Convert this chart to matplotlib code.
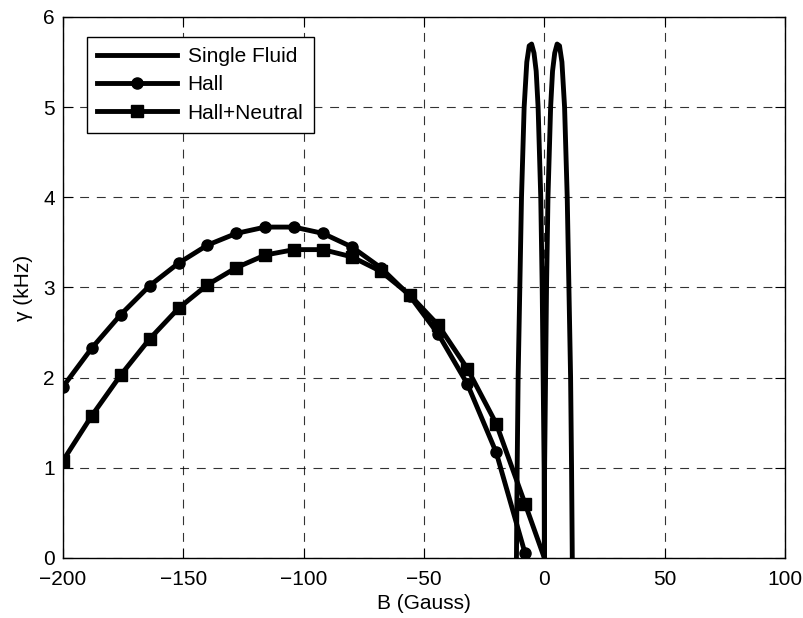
import numpy as np
import matplotlib
matplotlib.use("Agg")
import matplotlib.pyplot as plt

plt.rcParams['font.family'] = ['Liberation Sans', 'DejaVu Sans']

# Single fluid (two narrow lobes around B = 0)
sf_B = [-11.6, -11.3, -10.9, -10.2, -9.5, -8.4, -7.3, -6.3, -5.3, -4.3, -3.4,
        -2.6, -1.5, -0.9, -0.5, -0.1, 0.0, 0.1, 0.5, 0.9, 1.5, 2.6, 3.4, 4.3,
        5.3, 6.3, 7.3, 8.4, 9.5, 10.2, 10.9, 11.3, 11.6]
sf_gamma = [0.0, 1.0, 2.0, 3.0, 4.0, 5.0, 5.5, 5.68, 5.7, 5.6, 5.4,
            5.0, 4.0, 3.0, 2.0, 1.0, 0.0, 1.0, 2.0, 3.0, 4.0, 5.0, 5.4, 5.6,
            5.7, 5.68, 5.5, 5.0, 4.0, 3.0, 2.0, 1.0, 0.0]

# Hall
hall_B = [-200, -188, -176, -164, -152, -140, -128, -116, -104, -92, -80,
          -68, -56, -44, -32, -20, -8]
hall_gamma = [1.90, 2.33, 2.70, 3.02, 3.27, 3.47, 3.60, 3.67, 3.67, 3.60, 3.45,
              3.22, 2.91, 2.48, 1.93, 1.17, 0.05]

# Hall + neutral
hn_B = [-200, -188, -176, -164, -152, -140, -128, -116, -104, -92, -80,
        -68, -56, -44, -32, -20, -8, 4]
hn_gamma = [1.08, 1.58, 2.03, 2.43, 2.77, 3.03, 3.22, 3.36, 3.42, 3.42, 3.34,
            3.18, 2.92, 2.58, 2.10, 1.49, 0.60, -0.30]

fig = plt.figure(figsize=(8.04, 6.18), dpi=100)
ax = fig.add_axes([0.0784, 0.0971, 0.8980, 0.8754])

lw = 3.5
ax.plot(sf_B, sf_gamma, color='k', lw=lw, label='Single Fluid')
ax.plot(hall_B, hall_gamma, color='k', lw=lw, marker='o', ms=8,
        label='Hall')
ax.plot(hn_B, hn_gamma, color='k', lw=lw, marker='s', ms=8,
        label='Hall+Neutral')

ax.set_xlim(-200, 100)
ax.set_ylim(0, 6)
ax.set_xticks(np.arange(-200, 101, 50))
ax.set_yticks(np.arange(0, 7, 1))
ax.grid(True, color='k', linestyle=(0, (8, 7)), lw=0.8, alpha=0.8)
ax.tick_params(direction='in', top=True, right=True, length=7, labelsize=15)
ax.tick_params(axis='x', pad=9)
ax.tick_params(axis='y', pad=6)
for s in ax.spines.values():
    s.set_linewidth(1.0)

ax.set_xlabel('B (Gauss)', fontsize=15, labelpad=3)
ax.set_ylabel('γ (kHz)', fontsize=15, labelpad=7)

leg = ax.legend(loc='upper left', bbox_to_anchor=(0.033, 0.963),
                borderaxespad=0, fontsize=15, handlelength=3.85,
                fancybox=False, framealpha=1, edgecolor='k',
                labelspacing=0.44, borderpad=0.49, handletextpad=0.5)
leg.get_frame().set_linewidth(1.0)

fig.savefig('out.png', dpi=100)
